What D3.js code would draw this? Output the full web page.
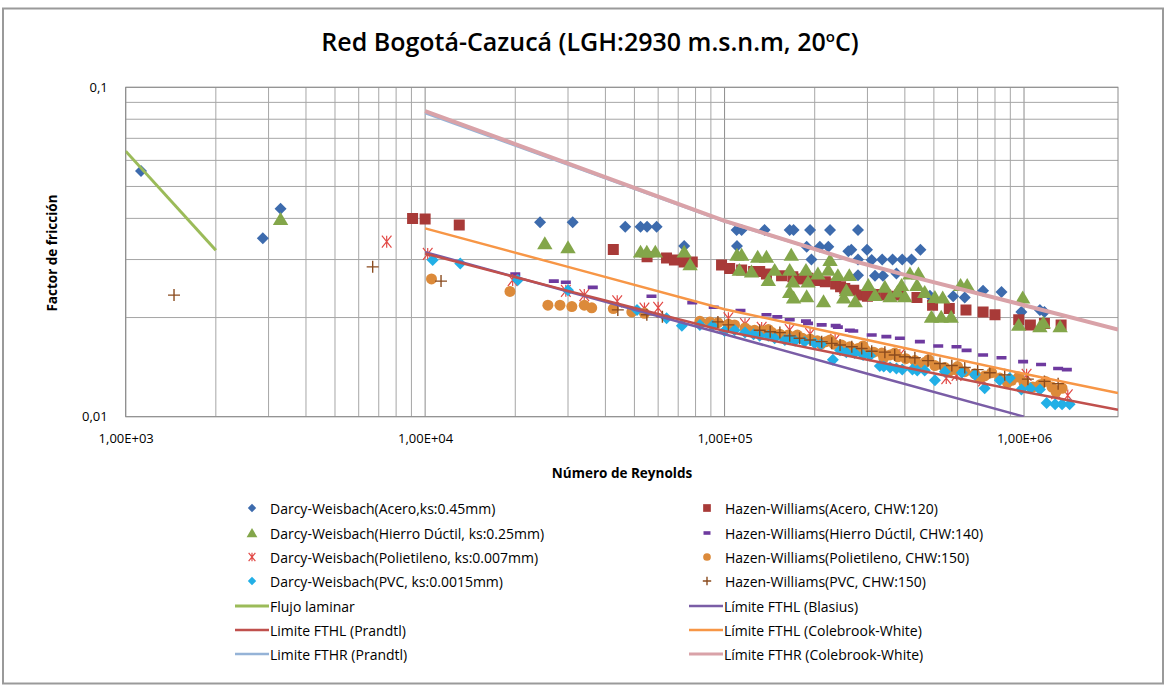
<!DOCTYPE html>
<html>
<head>
<meta charset="utf-8">
<script src="https://cdn.jsdelivr.net/npm/d3@7"></script>
<style>
  body { margin: 0; background: #fff; }
  svg { display: block; }
  text { font-family: "Open Sans", "Noto Sans", sans-serif; fill: #000; }
</style>
</head>
<body>
<svg id="chart" width="1166" height="685"></svg>
<script>
// ---- Axis setup -------------------------------------------------------
const xDomain = [1e3, 2.06e6];
const yDomain = [0.01, 0.1];
const xTickValues = [1e3, 1e4, 1e5, 1e6];
const xTickLabels = ["1,00E+03", "1,00E+04", "1,00E+05", "1,00E+06"];
const yTickValues = [0.01, 0.1];
const yTickLabels = ["0,01", "0,1"];

// ---- Measured points: [Reynolds, friction factor] ---------------------
const dwAcero = [
  [1125, 0.0557], [2870, 0.0348], [3290, 0.0428],
  [2.42e4, 0.0389], [3.11e4, 0.0389], [4.66e4, 0.0377], [5.24e4, 0.0377],
  [5.51e4, 0.0377], [5.93e4, 0.0377], [7.33e4, 0.033],
  [1.097e5, 0.0369], [1.14e5, 0.0369], [1.1e5, 0.033], [1.36e5, 0.0369],
  [1.65e5, 0.0369], [1.7e5, 0.0369], [1.93e5, 0.0369], [2.25e5, 0.0369],
  [2.79e5, 0.0369], [1.88e5, 0.0328], [2.08e5, 0.0328], [2.22e5, 0.0328],
  [2.59e5, 0.0318], [1.95e5, 0.030], [2.65e5, 0.0321], [2.99e5, 0.0321],
  [2.79e5, 0.030], [3.1e5, 0.0299], [3.36e5, 0.030], [3.64e5, 0.030],
  [3.92e5, 0.030], [4.21e5, 0.030], [4.51e5, 0.0321],
  [2.79e5, 0.0269], [3.18e5, 0.0268], [3.38e5, 0.0268], [3.75e5, 0.0272],
  [4.85e5, 0.0233], [5.8e5, 0.0232], [6.34e5, 0.023], [7.3e5, 0.0241],
  [8.41e5, 0.0239], [9.8e5, 0.0208], [1.13e6, 0.0211], [1.17e6, 0.0208]
];

const dwHierro = [
  [3290, 0.0398], [2.51e4, 0.0336], [3.0e4, 0.0327],
  [5.24e4, 0.0317], [5.5e4, 0.0317], [5.87e4, 0.0317], [7.33e4, 0.0317], [7.67e4, 0.029],
  [1.1e5, 0.031], [1.14e5, 0.031], [1.29e5, 0.0306], [1.38e5, 0.0306], [1.67e5, 0.031],
  [1.12e5, 0.0279], [1.23e5, 0.0276], [1.4e5, 0.026], [1.47e5, 0.0279], [1.65e5, 0.0279],
  [1.69e5, 0.0257], [1.87e5, 0.0279], [1.9e5, 0.0257], [2.05e5, 0.0272], [2.22e5, 0.0279],
  [2.39e5, 0.0269], [2.61e5, 0.0269], [1.65e5, 0.0239], [1.7e5, 0.023], [1.88e5, 0.0232],
  [2.14e5, 0.0224], [2.5e5, 0.023], [2.73e5, 0.0224], [2.25e5, 0.0299], [2.55e5, 0.0242],
  [3.02e5, 0.0251], [3.43e5, 0.0248], [3.9e5, 0.0251], [4.16e5, 0.0272], [4.44e5, 0.0272],
  [4.39e5, 0.0251], [3.78e5, 0.024], [3.18e5, 0.0234], [3.57e5, 0.0232], [4.0e5, 0.0232],
  [4.66e5, 0.0239], [5.04e5, 0.0231], [4.91e5, 0.0201], [5.29e5, 0.0201], [5.71e5, 0.0201],
  [5.35e5, 0.023], [6.14e5, 0.0251], [6.46e5, 0.0251], [9.9e5, 0.023], [9.6e5, 0.019],
  [1.13e6, 0.0188], [1.16e6, 0.0193], [1.32e6, 0.0188]
];

const dwPolietileno = [
  [7440, 0.034], [1.02e4, 0.0312], [1.96e4, 0.026], [2.95e4, 0.0241], [3.4e4, 0.0234],
  [4.38e4, 0.0224], [5.4e4, 0.0213], [6.0e4, 0.0214], [1.03e5, 0.0199], [1.17e5, 0.0191],
  [1.33e5, 0.0186], [1.65e5, 0.0183], [1.93e5, 0.0178], [2.34e5, 0.0171], [3.85e5, 0.0154],
  [5.5e5, 0.0131], [5.95e5, 0.0134], [7.3e5, 0.0129], [1.02e6, 0.0134], [1.28e6, 0.0118],
  [1.4e6, 0.0116]
];

const dwPVC = [
  [1.06e4, 0.0299], [1.31e4, 0.0292], [2.04e4, 0.026], [3.0e4, 0.0242], [5.1e4, 0.0211],
  [6.4e4, 0.0199], [7.2e4, 0.0189], [8.27e4, 0.019], [9.1e4, 0.0189], [1.0e5, 0.0182],
  [1.08e5, 0.0183], [1.17e5, 0.018], [1.31e5, 0.0176], [1.47e5, 0.0173], [1.59e5, 0.0171],
  [1.72e5, 0.017], [1.85e5, 0.0169], [2.0e5, 0.0167], [2.3e5, 0.0149], [2.43e5, 0.0159],
  [2.72e5, 0.0156], [3.06e5, 0.0153], [3.3e5, 0.01425], [3.57e5, 0.0141], [3.92e5, 0.0139],
  [4.24e5, 0.0139], [4.66e5, 0.0138], [5.04e5, 0.0129], [5.44e5, 0.0137], [6.2e5, 0.0136],
  [6.85e5, 0.0134], [7.39e5, 0.0122], [8.96e5, 0.0131], [9.8e5, 0.0121], [1.13e6, 0.0121],
  [1.19e6, 0.011], [1.34e6, 0.0109], [1.42e6, 0.0109],
  [1.25e5, 0.0178], [1.4e5, 0.0176], [1.65e5, 0.0172], [2.1e5, 0.0166], [2.55e5, 0.0157],
  [2.9e5, 0.0154], [3.4e5, 0.0142], [3.75e5, 0.014], [4.4e5, 0.0138], [8.3e5, 0.0129],
  [1.05e6, 0.0122], [1.27e6, 0.0109]
];

const hwAcero = [
  [9080, 0.040], [1.0e4, 0.0398], [1.3e4, 0.0382], [4.25e4, 0.0322], [5.51e4, 0.0306],
  [6.4e4, 0.0303], [6.8e4, 0.0299], [7.33e4, 0.0295], [7.8e4, 0.0295], [9.77e4, 0.0289],
  [1.04e5, 0.0282], [1.14e5, 0.0279], [1.25e5, 0.0276], [1.31e5, 0.0276], [1.38e5, 0.0271],
  [1.55e5, 0.0268], [1.69e5, 0.0266], [1.78e5, 0.0262], [1.9e5, 0.0263], [2.0e5, 0.0259],
  [2.17e5, 0.0257], [2.35e5, 0.0253], [2.44e5, 0.0248], [2.52e5, 0.0245], [2.7e5, 0.0242],
  [2.83e5, 0.0234], [3.0e5, 0.0232], [3.18e5, 0.0235], [3.45e5, 0.0234], [3.57e5, 0.0232],
  [3.85e5, 0.0234], [4.39e5, 0.023], [4.95e5, 0.0218], [5.63e5, 0.0213], [6.4e5, 0.0211],
  [7.3e5, 0.0208], [8.0e5, 0.0204], [9.6e5, 0.0197], [1.05e6, 0.019], [1.17e6, 0.0192],
  [1.33e6, 0.019]
];

const hwHierro = [
  [2.0e4, 0.0271], [2.69e4, 0.0258], [2.95e4, 0.0256], [3.63e4, 0.0247], [5.7e4, 0.0232],
  [7.8e4, 0.0222], [9.2e4, 0.0215], [1.13e5, 0.021], [1.38e5, 0.0204], [1.5e5, 0.0201],
  [1.65e5, 0.0197], [1.87e5, 0.0195], [1.9e5, 0.0192], [2.11e5, 0.019], [2.35e5, 0.0189],
  [2.39e5, 0.0187], [2.62e5, 0.0183], [2.69e5, 0.0182], [3.1e5, 0.0177], [3.47e5, 0.0175],
  [3.85e5, 0.0173], [4.49e5, 0.0169], [5.17e5, 0.0164], [5.95e5, 0.0163], [6.43e5, 0.0159],
  [7.3e5, 0.0154], [8.41e5, 0.0151], [9.93e5, 0.0147], [1.14e6, 0.0144], [1.3e6, 0.014],
  [1.39e6, 0.0139]
];

const hwPolietileno = [
  [1.05e4, 0.0262], [1.92e4, 0.024], [2.57e4, 0.0218], [2.82e4, 0.0218], [3.09e4, 0.0216],
  [3.4e4, 0.0218], [3.6e4, 0.0214], [4.25e4, 0.0213], [4.9e4, 0.0208], [5.4e4, 0.0206],
  [8.27e4, 0.0195], [8.93e4, 0.0194], [9.5e4, 0.0193], [1.03e5, 0.0191], [1.08e5, 0.019],
  [1.17e5, 0.0186], [1.26e5, 0.0183], [1.34e5, 0.0182], [1.44e5, 0.018], [1.53e5, 0.0178],
  [1.63e5, 0.0177], [1.72e5, 0.0175], [1.82e5, 0.0173], [1.93e5, 0.0172], [2.04e5, 0.017],
  [2.18e5, 0.0169], [2.32e5, 0.0166], [2.46e5, 0.0165], [2.62e5, 0.0163], [2.79e5, 0.0161],
  [2.96e5, 0.0159], [3.15e5, 0.0157], [3.35e5, 0.0156], [3.57e5, 0.0154], [3.79e5, 0.0152],
  [4.03e5, 0.015], [4.32e5, 0.0148], [4.66e5, 0.0146], [5.04e5, 0.0143], [5.44e5, 0.0141],
  [5.87e5, 0.0139], [6.34e5, 0.0137], [6.85e5, 0.0135], [7.39e5, 0.0133], [8.3e5, 0.0131],
  [9.1e5, 0.0129], [1.0e6, 0.0127], [1.13e6, 0.0125], [1.24e6, 0.0123], [1.34e6, 0.0122],
  [1.4e5, 0.0184], [1.75e5, 0.0177], [2.25e5, 0.0171], [2.9e5, 0.0164], [3.7e5, 0.0156],
  [4.8e5, 0.0149], [6.0e5, 0.0142], [7.8e5, 0.0136], [9.6e5, 0.0132], [1.18e6, 0.0128],
  [1.2e5, 0.0183], [1.6e5, 0.0174], [2.1e5, 0.0166], [2.7e5, 0.0158], [3.4e5, 0.0151],
  [4.4e5, 0.0144], [5.6e5, 0.0137], [7.1e5, 0.0131], [8.8e5, 0.0127], [1.07e6, 0.0123],
  [1.28e6, 0.0119]
];

const hwPVC = [
  [1450, 0.0234], [6680, 0.0285], [1.13e4, 0.0258], [4.4e4, 0.0211], [5.5e4, 0.0204],
  [6.2e4, 0.0201], [9.5e4, 0.0194], [1.03e5, 0.019], [1.31e5, 0.0183], [1.42e5, 0.0181],
  [1.53e5, 0.018], [1.65e5, 0.0176], [1.78e5, 0.0173], [1.93e5, 0.0171], [2.11e5, 0.0169],
  [2.28e5, 0.0167], [2.43e5, 0.0165], [2.66e5, 0.0163], [2.87e5, 0.0161], [3.1e5, 0.0158],
  [3.43e5, 0.0157], [3.7e5, 0.0154], [4.0e5, 0.0152], [4.32e5, 0.0151], [4.78e5, 0.0148],
  [5.24e5, 0.0145], [5.74e5, 0.0143], [6.34e5, 0.0141], [7.0e5, 0.0139], [7.69e5, 0.0136],
  [8.62e5, 0.0134], [1.03e6, 0.013], [1.17e6, 0.0128], [1.3e6, 0.0126]
];

// ---- Reference curves: [Reynolds, friction factor] --------------------
const flujoLaminar = [[1000, 0.064], [2000, 0.032]];
const fthlBlasius = [[1e4, 0.0316], [3e4, 0.024], [1e5, 0.0178], [3e5, 0.0135], [1e6, 0.01]];
const fthlPrandtl = [[1e4, 0.0313], [3e4, 0.0241], [1e5, 0.0182], [3e5, 0.0149], [1e6, 0.0119], [2.06e6, 0.0105]];
const fthlColebrook = [[1e4, 0.0373], [3e4, 0.0285], [1e5, 0.0212], [3e5, 0.0171], [1e6, 0.0135], [2.06e6, 0.0118]];
const fthrPrandtl = [[1e4, 0.0835], [2e4, 0.0665], [5e4, 0.0492], [1e5, 0.0391], [2.62e5, 0.0299], [4.03e5, 0.0269], [1e6, 0.0218], [2.06e6, 0.0184]];
const fthrColebrook = [[1e4, 0.0847], [2e4, 0.0672], [5e4, 0.0495], [1e5, 0.0393], [2.62e5, 0.0299], [4.03e5, 0.0269], [1e6, 0.0218], [2.06e6, 0.0184]];

// ---- Marker shapes (paths centred on 0,0) ------------------------------
const shapes = {
  diamond: s => `M0,${-s}L${s},0L0,${s}L${-s},0Z`,
  triangle: s => `M0,${-s}L${s * 1.1},${s * 0.85}L${-s * 1.1},${s * 0.85}Z`,
  square: s => `M${-s},${-s}H${s}V${s}H${-s}Z`,
  circle: s => `M${-s},0A${s},${s} 0 1,0 ${s},0A${s},${s} 0 1,0 ${-s},0Z`,
  dash: s => `M${-s},-1.8H${s}V1.8H${-s}Z`,
  plus: s => `M${-s},0H${s}M0,${-s}V${s}`,
  star: s => `M${-s * 0.8},${-s}L${s * 0.8},${s}M${-s * 0.8},${s}L${s * 0.8},${-s}M0,${-s}V${s}`
};

// Draw order follows the series order of the original workbook.
const scatterSeries = [
  { name: "Darcy-Weisbach(Acero,ks:0.45mm)", data: dwAcero, shape: "diamond", size: 6, color: "#3D6BAD", filled: true },
  { name: "Hazen-Williams(Acero, CHW:120)", data: hwAcero, shape: "square", size: 5.5, color: "#A83A38", filled: true },
  { name: "Darcy-Weisbach(Hierro Dúctil, ks:0.25mm)", data: dwHierro, shape: "triangle", size: 7, color: "#83A64A", filled: true },
  { name: "Hazen-Williams(Hierro Dúctil, CHW:140)", data: hwHierro, shape: "dash", size: 5, color: "#6E3A9F", filled: true },
  { name: "Darcy-Weisbach(Polietileno, ks:0.007mm)", data: dwPolietileno, shape: "star", size: 6, color: "#E24A47", filled: false },
  { name: "Hazen-Williams(Polietileno, CHW:150)", data: hwPolietileno, shape: "circle", size: 5.5, color: "#DC8A3A", filled: true },
  { name: "Darcy-Weisbach(PVC, ks:0.0015mm)", data: dwPVC, shape: "diamond", size: 6, color: "#22AFE6", filled: true },
  { name: "Hazen-Williams(PVC, CHW:150)", data: hwPVC, shape: "plus", size: 6, color: "#8A4B1E", filled: false }
];

const lineSeries = [
  { name: "Flujo laminar", data: flujoLaminar, color: "#9BBB59", width: 3 },
  { name: "Límite FTHL (Blasius)", data: fthlBlasius, color: "#7A5DA6", width: 2.5 },
  { name: "Limite FTHL (Prandtl)", data: fthlPrandtl, color: "#C0504D", width: 2.5 },
  { name: "Límite FTHL (Colebrook-White)", data: fthlColebrook, color: "#F79646", width: 2.5 },
  { name: "Limite FTHR (Prandtl)", data: fthrPrandtl, color: "#95B3D7", width: 2.5 },
  { name: "Límite FTHR (Colebrook-White)", data: fthrColebrook, color: "#D9A2A8", width: 4 }
];

// ---- Layout -----------------------------------------------------------
const svg = d3.select("#chart");
const plot = { left: 125.7, top: 87.3, right: 1118, bottom: 416.7 };

const x = d3.scaleLog().domain(xDomain).range([plot.left, plot.right]);
const y = d3.scaleLog().domain(yDomain).range([plot.bottom, plot.top]);

// Chart frame
svg.append("rect")
  .attr("x", 3).attr("y", 8.5).attr("width", 1160).attr("height", 675)
  .attr("fill", "#fff").attr("stroke", "#9a9a9a").attr("stroke-width", 2);

// Title
const title = svg.append("text")
  .attr("x", 590).attr("y", 51)
  .attr("text-anchor", "middle")
  .style("font-size", "25px").style("font-weight", 600);
title.append("tspan").text("Red Bogotá-Cazucá (LGH:2930 m.s.n.m, 20");
title.append("tspan").attr("dy", -9).style("font-size", "15px").text("o");
title.append("tspan").attr("dy", 9).text("C)");

// Grid lines
const gridG = svg.append("g");
const xMinor = [];
for (let e = 3; e <= 5; e++) for (let k = 1; k <= 9; k++) xMinor.push(k * Math.pow(10, e));
xMinor.push(1e6);
gridG.selectAll("line.vx").data(xMinor).join("line")
  .attr("x1", d => x(d)).attr("x2", d => x(d))
  .attr("y1", plot.top).attr("y2", plot.bottom)
  .attr("stroke", d => xTickValues.includes(d) ? "#8c8c8c" : "#a6a6a6")
  .attr("stroke-width", 1);
const yMinor = d3.range(1, 11).map(k => k * 0.01);
gridG.selectAll("line.hy").data(yMinor).join("line")
  .attr("x1", plot.left).attr("x2", plot.right)
  .attr("y1", d => y(d)).attr("y2", d => y(d))
  .attr("stroke", "#a6a6a6").attr("stroke-width", 1);

// Plot border
svg.append("rect")
  .attr("x", plot.left).attr("y", plot.top)
  .attr("width", plot.right - plot.left).attr("height", plot.bottom - plot.top)
  .attr("fill", "none").attr("stroke", "#8c8c8c");

// Axes (labels only, Excel-style)
const xAxis = d3.axisBottom(x).tickValues(xTickValues)
  .tickFormat((d, i) => xTickLabels[i]).tickSize(0).tickPadding(17);
svg.append("g").attr("transform", `translate(0,${plot.bottom})`).call(xAxis)
  .call(g => g.select(".domain").remove())
  .call(g => g.selectAll("text").style("font-size", "13px").attr("fill", "#000")
    .style("font-family", "'Open Sans', sans-serif"));
const yAxis = d3.axisLeft(y).tickValues(yTickValues)
  .tickFormat((d, i) => yTickLabels[i]).tickSize(0).tickPadding(18);
svg.append("g").attr("transform", `translate(${plot.left},0)`).call(yAxis)
  .call(g => g.select(".domain").remove())
  .call(g => g.selectAll("text").style("font-size", "13px").attr("fill", "#000")
    .style("font-family", "'Open Sans', sans-serif"));

// Axis titles
svg.append("text").attr("x", 622).attr("y", 478).attr("text-anchor", "middle")
  .style("font-size", "13.5px").style("font-weight", 700).text("Número de Reynolds");
svg.append("text").attr("transform", "translate(57,253) rotate(-90)").attr("text-anchor", "middle")
  .style("font-size", "13.5px").style("font-weight", 700).text("Factor de fricción");

// Clip region for plotted data
svg.append("clipPath").attr("id", "plotClip").append("rect")
  .attr("x", plot.left).attr("y", plot.top)
  .attr("width", plot.right - plot.left).attr("height", plot.bottom - plot.top);
const dataG = svg.append("g").attr("clip-path", "url(#plotClip)");

function styleMarker(sel, s) {
  if (s.filled) sel.attr("fill", s.color).attr("stroke", "none");
  else sel.attr("fill", "none").attr("stroke", s.color).attr("stroke-width", s.shape === "plus" ? 1.4 : 1.2);
}

scatterSeries.forEach(s => {
  const g = dataG.append("g");
  g.selectAll("path").data(s.data).join("path")
    .attr("d", shapes[s.shape](s.size))
    .attr("transform", d => `translate(${x(d[0])},${y(d[1])})`)
    .call(styleMarker, s);
});

const lineGen = d3.line().x(d => x(d[0])).y(d => y(d[1]));
lineSeries.forEach(s => {
  dataG.append("path").datum(s.data)
    .attr("d", lineGen).attr("fill", "none")
    .attr("stroke", s.color).attr("stroke-width", s.width)
    .attr("stroke-linejoin", "round");
});

// ---- Legend -----------------------------------------------------------
const legendRows = [508, 533, 557, 581, 606, 630, 654];
const leftCol = { marker: 252, text: 270, line: [235, 269] };
const rightCol = { marker: 707, text: 725, line: [689, 723] };
const legendLeft = [scatterSeries[0], scatterSeries[2], scatterSeries[4], scatterSeries[6], lineSeries[0], lineSeries[2], lineSeries[4]];
const legendRight = [scatterSeries[1], scatterSeries[3], scatterSeries[5], scatterSeries[7], lineSeries[1], lineSeries[3], lineSeries[5]];

function drawLegend(items, col) {
  items.forEach((s, i) => {
    const cy = legendRows[i];
    if (s.shape) {
      const p = svg.append("path")
        .attr("d", shapes[s.shape](s.size * 0.7))
        .attr("transform", `translate(${col.marker},${cy})`);
      styleMarker(p, s);
    } else {
      svg.append("line").attr("x1", col.line[0]).attr("x2", col.line[1])
        .attr("y1", cy).attr("y2", cy)
        .attr("stroke", s.color).attr("stroke-width", Math.min(s.width, 3));
    }
    svg.append("text").attr("x", s.shape ? col.text : col.line[1] + 1).attr("y", cy)
      .attr("dominant-baseline", "central")
      .style("font-size", "14px").text(s.name);
  });
}
drawLegend(legendLeft, leftCol);
drawLegend(legendRight, rightCol);
</script>
</body>
</html>
